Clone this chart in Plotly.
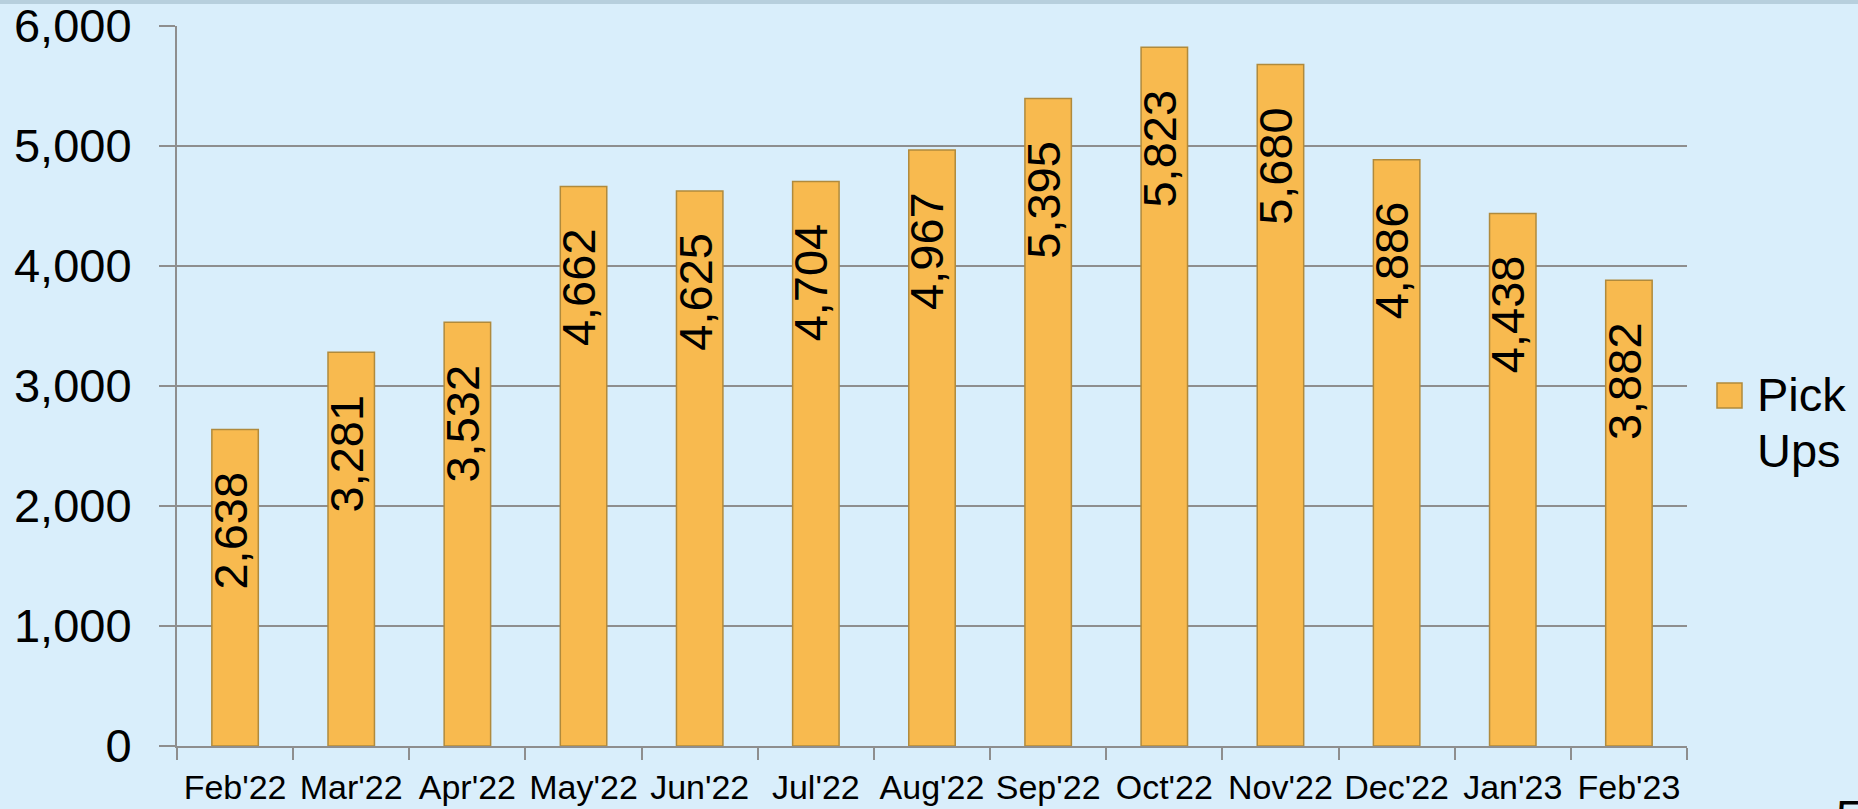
import plotly.graph_objects as go

months = ["Feb'22", "Mar'22", "Apr'22", "May'22", "Jun'22", "Jul'22", "Aug'22",
          "Sep'22", "Oct'22", "Nov'22", "Dec'22", "Jan'23", "Feb'23"]
pick_ups = [2638, 3281, 3532, 4662, 4625, 4704, 4967, 5395, 5823, 5680, 4886, 4438, 3882]
y_ticks = [0, 1000, 2000, 3000, 4000, 5000, 6000]
y_tick_labels = ["0", "1,000", "2,000", "3,000", "4,000", "5,000", "6,000"]

BG = "#D9EEFB"
BAR = "#F8BA4F"
BAR_EDGE = "#B08A3C"
GRID = "#8E8E8E"
FONT = "Liberation Sans, Arial, Helvetica, sans-serif"

fig = go.Figure()
fig.add_trace(go.Bar(
    x=months, y=pick_ups, name="Pick Ups",
    marker=dict(color=BAR, line=dict(color=BAR_EDGE, width=1.5)),
    showlegend=False,
))

L, R, T, B = 177, 171, 26, 63
W, H = 1858, 809
pw, ph = W - L - R, H - T - B

def px(x):
    return (x - L) / pw

def py(y):
    return (H - B - y) / ph

annotations = []
for m, v in zip(months, pick_ups):
    annotations.append(dict(
        x=m, y=v, xref="x", yref="y", text=f"{v:,}", textangle=-90,
        xanchor="center", yanchor="top", yshift=-40, xshift=-5, showarrow=False,
        font=dict(size=47, family=FONT, color="black"),
    ))

annotations += [
    dict(text="Pick", xref="paper", yref="paper", x=px(1755), y=py(395),
         xanchor="left", yanchor="middle", showarrow=False,
         font=dict(size=47, family=FONT, color="black")),
    dict(text="Ups", xref="paper", yref="paper", x=px(1755), y=py(450),
         xanchor="left", yanchor="middle", showarrow=False,
         font=dict(size=47, family=FONT, color="black")),
    dict(text="5", xref="paper", yref="paper", x=px(1834), y=py(788),
         xanchor="left", yanchor="top", showarrow=False,
         font=dict(size=47, family=FONT, color="black")),
]

fig.update_layout(
    width=W, height=H,
    margin=dict(l=L, r=R, t=T, b=B, pad=0, autoexpand=False),
    paper_bgcolor=BG, plot_bgcolor=BG,
    bargap=0.6,
    font=dict(family=FONT, color="black"),
    xaxis=dict(
        type="category", tickson="boundaries", ticks="outside", ticklen=12,
        tickcolor=GRID, tickwidth=2, showline=True, linecolor=GRID, linewidth=2,
        showgrid=False, tickfont=dict(size=34), ticklabelstandoff=10,
        tickangle=0, automargin=False,
    ),
    yaxis=dict(
        range=[0, 6000], tickvals=y_ticks, ticktext=y_tick_labels,
        ticks="outside", ticklen=16, tickcolor=GRID, tickwidth=2,
        showline=True, linecolor=GRID, linewidth=2,
        showgrid=True, gridcolor=GRID, gridwidth=2, zeroline=False,
        tickfont=dict(size=47), ticklabelstandoff=18,
        ticklabeloverflow="allow", automargin=False,
    ),
    shapes=[
        dict(type="rect", xref="paper", yref="paper",
             x0=px(1717), x1=px(1742), y0=py(408), y1=py(383),
             fillcolor=BAR, line=dict(color=BAR_EDGE, width=1.5)),
        dict(type="rect", xref="paper", yref="paper",
             x0=px(0), x1=px(W), y0=py(4), y1=py(0),
             fillcolor="#B7CFDD", line=dict(width=0), layer="above"),
    ],
    annotations=annotations,
)

fig.write_html(
    "out.html",
    config={"displayModeBar": False},
    post_script="document.body.style.margin='0';document.body.style.overflow='hidden';",
)
